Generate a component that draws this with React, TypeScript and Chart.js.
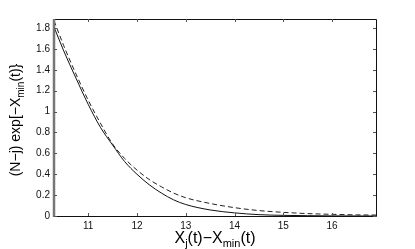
import React, { useEffect, useRef } from "react";
import { Chart, registerables } from "chart.js";

Chart.register(...registerables);

const xValues = [10.3, 10.5, 10.75, 11.0, 11.25, 11.5, 11.75, 12.0, 12.25, 12.5, 12.75, 13.0, 13.5, 14.0, 14.5, 15.0, 15.5, 16.0, 16.5, 16.9];
const solidValues = [1.81, 1.58, 1.32, 1.07, 0.85, 0.68, 0.52, 0.4, 0.3, 0.22, 0.155, 0.11, 0.058, 0.03, 0.013, 0.006, 0.003, 0.001, 0.0005, 0];
const dashedValues = [1.87, 1.63, 1.36, 1.11, 0.89, 0.69, 0.55, 0.44, 0.35, 0.28, 0.22, 0.175, 0.12, 0.08, 0.052, 0.035, 0.023, 0.016, 0.011, 0.009];
const xTicks = [11, 12, 13, 14, 15, 16];
const yTicks = [0, 0.2, 0.4, 0.6, 0.8, 1, 1.2, 1.4, 1.6, 1.8];

const FONT = "'Liberation Sans', Arial, Helvetica, sans-serif";

const framePlugin = {
  id: "frame",
  afterDraw(chart: any) {
    const ctx = chart.ctx;
    const { left, right, top, bottom } = chart.chartArea;
    const xs = chart.scales.x;
    const ys = chart.scales.y;
    ctx.save();
    // box
    ctx.strokeStyle = "#111";
    ctx.lineWidth = 1;
    ctx.beginPath();
    ctx.moveTo(left, top + 0.5);
    ctx.lineTo(right + 0.5, top + 0.5);
    ctx.lineTo(right + 0.5, bottom + 0.5);
    ctx.lineTo(left, bottom + 0.5);
    ctx.stroke();
    ctx.strokeStyle = "#777";
    ctx.lineWidth = 2.5;
    ctx.beginPath();
    ctx.moveTo(left, top);
    ctx.lineTo(left, bottom + 1);
    ctx.stroke();
    // inward ticks
    ctx.strokeStyle = "#555";
    ctx.lineWidth = 1;
    const tl = 3;
    ctx.beginPath();
    for (const v of xTicks) {
      const px = Math.round(xs.getPixelForValue(v)) + 0.5;
      ctx.moveTo(px, bottom);
      ctx.lineTo(px, bottom - tl);
      ctx.moveTo(px, top);
      ctx.lineTo(px, top + tl);
    }
    for (const v of yTicks) {
      const py = Math.round(ys.getPixelForValue(v)) + 0.5;
      ctx.moveTo(left, py);
      ctx.lineTo(left + tl, py);
      ctx.moveTo(right, py);
      ctx.lineTo(right - tl, py);
    }
    ctx.stroke();

    // x title: X_j(t)−X_min(t)
    ctx.fillStyle = "#000";
    ctx.textBaseline = "alphabetic";
    const big = `16px ${FONT}`;
    const small = `11px ${FONT}`;
    const xParts: [string, string, number][] = [
      ["X", big, 0],
      ["j", small, 4],
      ["(t)\u2212X", big, 0],
      ["min", small, 4],
      ["(t)", big, 0],
    ];
    let total = 0;
    for (const [t, f] of xParts) {
      ctx.font = f;
      total += ctx.measureText(t).width;
    }
    let cx = (left + right) / 2 - total / 2 + 0;
    const baseY = 243;
    for (const [t, f, dy] of xParts) {
      ctx.font = f;
      ctx.textAlign = "left";
      ctx.fillText(t, cx, baseY + dy);
      cx += ctx.measureText(t).width;
    }

    // y title: (N−j) exp[−X_min(t)}
    const yBig = `14px ${FONT}`;
    const ySmall = `10px ${FONT}`;
    const yParts: [string, string, number][] = [
      ["(N\u2212j) exp[\u2212X", yBig, 0],
      ["min", ySmall, 4],
      ["(t)}", yBig, 0],
    ];
    total = 0;
    for (const [t, f] of yParts) {
      ctx.font = f;
      total += ctx.measureText(t).width;
    }
    ctx.translate(19.5, 120);
    ctx.rotate(-Math.PI / 2);
    let cy = -total / 2;
    for (const [t, f, dy] of yParts) {
      ctx.font = f;
      ctx.textAlign = "left";
      ctx.fillText(t, cy, dy);
      cy += ctx.measureText(t).width;
    }
    ctx.restore();
  },
};

export default function App() {
  const ref = useRef<HTMLCanvasElement | null>(null);
  useEffect(() => {
    if (!ref.current) return;
    const chart = new Chart(ref.current, {
      type: "line",
      data: {
        datasets: [
          {
            data: xValues.map((x, i) => ({ x, y: solidValues[i] })),
            borderColor: "#111",
            borderWidth: 1,
            pointRadius: 0,
            cubicInterpolationMode: "monotone",
            fill: false,
          },
          {
            data: xValues.map((x, i) => ({ x, y: dashedValues[i] })),
            borderColor: "#222",
            borderWidth: 1,
            borderDash: [5, 3],
            pointRadius: 0,
            cubicInterpolationMode: "monotone",
            fill: false,
          },
        ],
      },
      options: {
        animation: false,
        responsive: false,
        maintainAspectRatio: false,
        devicePixelRatio: 1,
        layout: { padding: { left: 0, top: 19, right: 39, bottom: 0 } },
        plugins: { legend: { display: false }, tooltip: { enabled: false } },
        scales: {
          x: {
            type: "linear",
            min: 10.3,
            max: 16.9,
            grid: { display: false, drawTicks: false },
            border: { display: false },
            afterFit: (s: any) => {
              s.height = 33;
            },
            ticks: {
              stepSize: 1,
              includeBounds: false,
              autoSkip: false,
              maxRotation: 0,
              padding: 4,
              color: "#111",
              font: { family: FONT, size: 10 },
              callback: (v: any) => String(Math.round(Number(v))),
            },
          },
          y: {
            type: "linear",
            min: 0,
            max: 1.886,
            grid: { display: false, drawTicks: false },
            border: { display: false },
            afterFit: (s: any) => {
              s.width = 54;
            },
            ticks: {
              stepSize: 0.2,
              includeBounds: false,
              autoSkip: false,
              padding: 4,
              color: "#111",
              font: { family: FONT, size: 10 },
              callback: (v: any) => String(+Number(v).toFixed(1)),
            },
          },
        },
      },
      plugins: [framePlugin],
    } as any);
    return () => chart.destroy();
  }, []);
  return (
    <div style={{ position: "fixed", left: 0, top: 0, width: 415, height: 249, background: "#fff" }}>
      <canvas ref={ref} width={415} height={249} style={{ width: 415, height: 249, display: "block" }} />
    </div>
  );
}
